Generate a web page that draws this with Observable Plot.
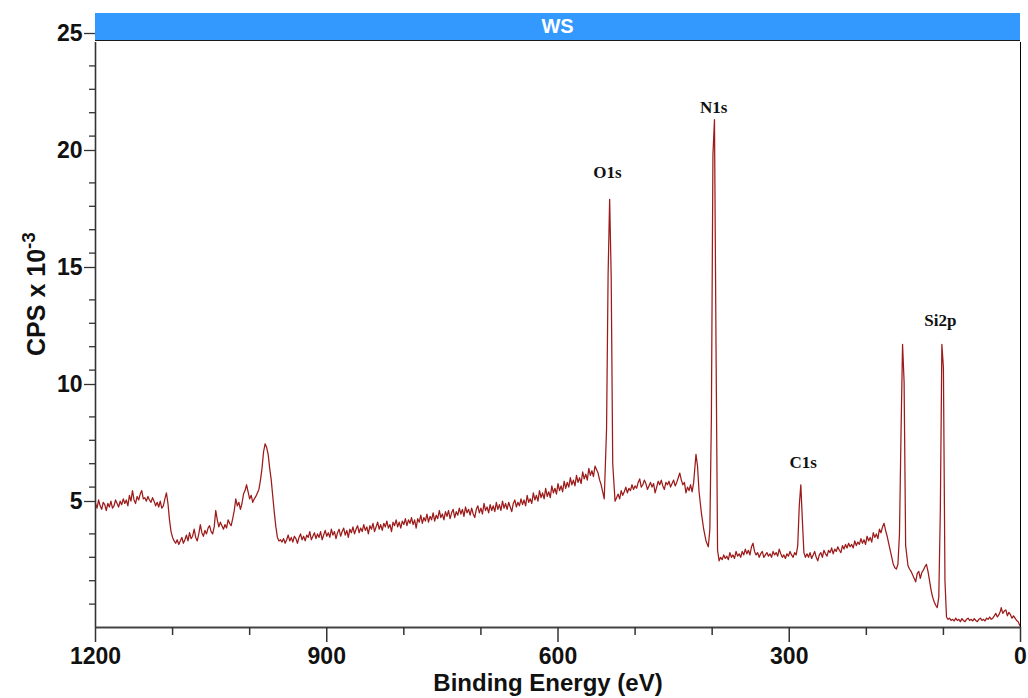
<!DOCTYPE html>
<html>
<head>
<meta charset="utf-8">
<script src="https://cdn.jsdelivr.net/npm/d3@7"></script>
<script src="https://cdn.jsdelivr.net/npm/@observablehq/plot@0.6"></script>
<style>
  html, body { margin: 0; padding: 0; background: #fff; }
  #wrap { position: relative; width: 1028px; height: 698px; font-family: "Liberation Sans", Arial, sans-serif; }
  #bar { position: absolute; left: 95px; top: 13px; width: 925px; height: 28px; background: #3399ff;
         border-bottom: 1px solid #1a1a1a; box-sizing: border-box; color: #fff; font-weight: bold;
         font-size: 20px; line-height: 27px; text-align: center; font-family: "Liberation Sans", Arial, sans-serif; }
  #chart { position: absolute; left: 0; top: 0; }
</style>
</head>
<body>
<div id="wrap">
  <div id="chart"></div>
  <div id="bar">WS</div>
</div>
<script>
// Binding energy (eV), counts per second x 10^-3
const segHighBE = [
  [1200,5.3],[1198,5.1],[1196,5.45],[1194,5.2],[1192,5.05],[1190,5.35],[1188,5.25],[1186,5.0],
  [1184,5.3],[1182,5.15],[1180,5.4],[1178,5.1],[1176,5.2],[1174,5.45],[1172,5.3],[1170,5.15],
  [1168,5.4],[1166,5.25],[1164,5.5],[1162,5.3],[1160,5.45],[1158,5.2],[1156,5.65],[1154,5.4],
  [1152,5.85],[1150,5.45],[1148,5.3],[1146,5.6],[1144,5.45],[1142,5.7],[1140,5.85],[1138,5.5],
  [1136,5.55],[1134,5.4],[1132,5.6],[1130,5.45],[1128,5.35],[1126,5.55],[1124,5.4],[1122,5.2],
  [1120,5.35],[1118,5.15],[1116,5.4],[1114,5.1],[1112,5.2],[1110,5.5],[1108,5.75],[1106,5.3],
  [1104,4.6],[1102,4.1],[1100,3.85],[1098,3.7],[1096,3.6],[1094,3.75],[1092,3.55],[1090,3.7],
  [1088,3.85],[1086,3.6],[1084,3.75],[1082,3.95],[1080,3.7],[1078,4.05],[1076,3.8],[1074,3.9],
  [1072,4.2],[1070,3.85],[1068,3.7],[1066,4.0],[1064,4.4],[1062,4.05],[1060,3.9],[1058,4.15],
  [1056,4.0],[1054,4.25],[1052,4.35],[1050,4.1],[1048,4.0],[1046,4.3],[1044,5.0],[1042,4.6],
  [1040,4.3],[1038,4.5],[1036,4.35],[1034,4.2],[1032,4.4],[1030,4.25],[1028,4.6],[1026,4.45],
  [1024,4.35],[1022,4.65],[1020,5.0],[1018,5.5],[1016,5.2],[1014,5.35],[1012,5.05],[1010,5.3],
  [1008,5.7],[1006,5.85],[1004,6.1],[1002,5.8],[1000,5.5],[998,5.65],[996,5.35],[994,5.5],
  [992,5.6],[990,5.75],[988,5.9],[986,6.3],[984,6.8],[982,7.5],[980,7.85],[978,7.7],[976,7.4],
  [974,6.8],[972,6.3],[970,5.6],[968,4.9],[966,4.3],[964,3.85],[962,3.7],[960,3.75],[958,3.65]
];
const segMidBE = [
  [956,3.8],[954,3.6],[952,3.75],[950,3.95],[948,3.7],[946,3.85],[944,3.65],[942,3.9],[940,3.8],
  [938,3.6],[936,3.85],[934,4.0],[932,3.75],[930,3.9],[928,3.7],[926,3.95],[924,3.85],[922,4.1],
  [920,3.75],[918,3.9],[916,4.05],[914,3.8],[912,4.0],[910,3.85],[908,4.1],[906,3.75],[904,3.95],
  [902,4.15],[900,3.9],[898,4.05],[896,3.85],[894,4.2],[892,3.95],[890,4.1],[888,3.8],[886,4.05],
  [884,4.2],[882,3.9],[880,4.1],[878,4.25],[876,3.95],[874,4.15],[872,3.85],[870,4.2],[868,4.05],
  [866,4.3],[864,4.0],[862,4.2],[860,4.35],[858,4.05],[856,4.25],[854,4.1],[852,4.4],[850,4.15],
  [848,4.3],[846,4.0],[844,4.35],[842,4.2],[840,4.45],[838,4.1],[836,4.3],[834,4.5],[832,4.2],
  [830,4.4],[828,4.15],[826,4.45],[824,4.3],[822,4.55],[820,4.25],[818,4.4],[816,4.1],[814,4.5],
  [812,4.35],[810,4.6],[808,4.3],[806,4.5],[804,4.25],[802,4.55],[800,4.4],[798,4.65],[796,4.35],
  [794,4.6],[792,4.45],[790,4.7],[788,4.4],[786,4.6],[784,4.25],[782,4.65],[780,4.5],[778,4.8],
  [776,4.45],[774,4.7],[772,4.55],[770,4.85],[768,4.5],[766,4.75],[764,4.6],[762,4.9],[760,4.55],
  [758,4.8],[756,4.65],[754,5.0],[752,4.7],[750,4.85],[748,4.6],[746,4.95],[744,4.75],[742,5.0],
  [740,4.65],[738,4.9],[736,5.05],[734,4.7],[732,4.95],[730,4.8],[728,5.1],[726,4.85],[724,5.05],
  [722,4.75],[720,5.15],[718,4.9],[716,5.05],[714,4.8],[712,5.1],[710,4.85],[708,4.7],[706,5.05],
  [704,5.2],[702,4.9],[700,5.1],[698,4.85],[696,5.3],[694,5.0],[692,5.15],[690,4.9],[688,5.25],
  [686,5.0],[684,5.2],[682,4.95],[680,5.35],[678,5.05],[676,5.25],[674,5.0],[672,5.4],[670,5.1],
  [668,5.3],[666,5.05],[664,5.35],[662,5.15],[660,4.95],[658,5.3],[656,5.45],[654,5.15],[652,5.35],
  [650,5.2],[648,5.5],[646,5.25],[644,5.45],[642,5.2],[640,5.65],[638,5.35],[636,5.5],[634,5.3],
  [632,5.75],[630,5.45],[628,5.65],[626,5.4],[624,5.85],[622,5.55],[620,5.75],[618,5.5],[616,5.95],
  [614,5.6],[612,5.8],[610,5.55],[608,6.05],[606,5.75],[604,5.95],[602,5.7],[600,6.15],[598,5.85],
  [596,6.05],[594,5.8],[592,6.25],[590,5.95],[588,6.2],[586,6.0],[584,6.4],[582,6.1],[580,6.3],
  [578,6.05],[576,6.5],[574,6.2],[572,6.4],[570,6.15],[568,6.65],[566,6.35],[564,6.55],[562,6.3],
  [560,6.8],[558,6.5],[556,6.7],[554,6.45],[552,6.9],[550,6.75],[548,6.6],[546,6.3],[544,6.1],
  [542,5.8],[540,5.5],[537,8.5],[535,15.1],[533,18.3],[531,15.0],[529,7.0],[526,5.4]
];
const segNitrogen = [
  [524,5.55],[522,5.7],[520,5.5],[518,5.85],[516,5.65],[514,5.8],[512,6.0],[510,5.75],[508,5.95],
  [506,5.85],[504,6.1],[502,5.9],[500,6.05],[498,5.95],[496,6.2],[494,6.35],[492,6.0],[490,6.1],
  [488,6.3],[486,6.15],[484,5.9],[482,6.05],[480,6.2],[478,6.0],[476,6.15],[474,5.75],[472,6.0],
  [470,6.25],[468,6.1],[466,6.3],[464,6.05],[462,5.9],[460,6.2],[458,6.1],[456,6.25],[454,6.0],
  [452,6.15],[450,6.3],[448,6.05],[446,6.2],[444,6.4],[442,6.6],[440,6.3],[438,6.1],[436,6.2],
  [434,5.75],[432,6.0],[430,5.85],[428,6.1],[426,5.8],[424,6.2],[423,6.6],[421,7.4],[419,6.9],
  [417,5.8],[414,4.9],[411,4.2],[408,3.7],[405,3.45],[403,4.2],[401,9.0],[399,20.2],[397,21.7],
  [395,12.0],[393,3.3],[391,2.85]
];
const segCarbon = [
  [389,3.0],[387,2.9],[385,3.1],[383,2.95],[381,3.05],[379,2.9],[377,3.2],[375,3.0],[373,3.1],
  [371,2.95],[369,3.25],[367,3.05],[365,3.15],[363,3.0],[361,3.25],[359,3.1],[357,3.35],[355,3.15],
  [353,3.3],[351,3.1],[349,3.45],[347,3.6],[345,3.25],[343,3.1],[341,3.2],[339,3.0],[337,3.15],
  [335,3.25],[333,3.0],[331,3.1],[329,3.2],[327,3.05],[325,3.15],[323,3.0],[321,3.25],[319,3.1],
  [317,3.2],[315,3.05],[313,3.35],[311,3.15],[309,3.0],[307,3.1],[305,2.95],[303,3.15],[301,3.05],
  [299,3.25],[297,3.1],[295,3.0],[293,3.2],[291,3.1],[289,3.5],[287,5.2],[285,6.1],[283,4.6],
  [281,3.2],[279,3.0]
];
const segSilicon = [
  [277,3.15],[275,3.0],[273,3.2],[271,2.95],[269,3.1],[267,3.25],[265,3.0],[263,2.85],[261,3.1],
  [259,3.2],[257,3.0],[255,3.3],[253,3.15],[251,3.05],[249,3.3],[247,3.2],[245,3.4],[243,3.15],
  [241,3.35],[239,3.25],[237,3.45],[235,3.3],[233,3.2],[231,3.5],[229,3.35],[227,3.55],[225,3.4],
  [223,3.6],[221,3.45],[219,3.55],[217,3.4],[215,3.7],[213,3.5],[211,3.65],[209,3.55],[207,3.8],
  [205,3.6],[203,3.75],[201,3.55],[199,3.9],[197,3.7],[195,3.85],[193,3.65],[191,4.05],[189,3.85],
  [187,4.0],[185,3.8],[183,4.2],[181,4.05],[179,4.3],[177,4.45],[175,4.15],[173,3.9],[171,3.6],
  [169,3.3],[167,3.0],[165,2.7],[163,2.55],[161,2.5],[159,2.7],[157,4.0],[155,8.3],[153,12.1],
  [151,10.5],[149,3.5],[146,2.65],[144,2.5],[142,2.4],[140,2.25],[138,2.1],[136,1.95],[134,2.3],
  [132,2.4],[130,2.1],[128,2.35],[126,2.45],[124,2.6],[122,2.7],[120,2.4],[118,2.0],[116,1.6],
  [114,1.3],[112,1.1],[110,0.95],[108,0.85],[106,1.3],[104,5.0],[102,12.1],[100,11.1],[98,2.0]
];
const segLowBE = [
  [96,0.45],[94,0.35],[92,0.4],[90,0.3],[88,0.35],[86,0.28],[84,0.4],[82,0.3],[80,0.35],[78,0.25],
  [76,0.38],[74,0.3],[72,0.25],[70,0.35],[68,0.4],[66,0.3],[64,0.35],[62,0.28],[60,0.38],[58,0.3],
  [56,0.25],[54,0.35],[52,0.4],[50,0.3],[48,0.35],[46,0.28],[44,0.4],[42,0.35],[40,0.45],[38,0.35],
  [36,0.4],[34,0.5],[32,0.6],[30,0.45],[28,0.55],[26,0.7],[25,0.85],[23,0.6],[21,0.7],[19,0.75],
  [17,0.5],[15,0.65],[13,0.55],[11,0.4],[9,0.5],[7,0.4],[5,0.3],[3,0.25],[1,0.1],[0,0.05]
];

const peakNames = ["O1s", "N1s", "C1s", "Si2p"];
const peakBE    = [536, 398, 282, 104];
const peakLabelY = [19.45, 22.2, 7.05, 13.1];

const xMajorTicks = [1200, 900, 600, 300, 0];
const xMinorTicks = [1100, 1000, 800, 700, 500, 400, 200, 100];
const yMajorTicks = [5, 10, 15, 20, 25];
const yMinorTicks = [1, 2, 3, 4, 6, 7, 8, 9, 11, 12, 13, 14, 16, 17, 18, 19, 21, 22, 23, 24];

const spectrum = [...segHighBE, ...segMidBE, ...segNitrogen, ...segCarbon, ...segSilicon, ...segLowBE]
  .map(([be, cps]) => ({be, cps}));
const peaks = peakNames.map((name, i) => ({name, be: peakBE[i], y: peakLabelY[i]}));

const axisColor = "#333";
const svg = Plot.plot({
  width: 1028,
  height: 698,
  marginLeft: 95,
  marginRight: 8,
  marginTop: 42,
  marginBottom: 71,
  style: {fontFamily: "Liberation Sans, Arial, sans-serif", color: "#111", background: "transparent"},
  x: {domain: [1200, 0], label: null},
  y: {domain: [0, 25], label: null},
  marks: [
    Plot.line(spectrum, {x: "be", y: "cps", stroke: "#9c1a1a", strokeWidth: 1.25}),
    Plot.ruleX([1200], {stroke: axisColor, strokeWidth: 1.6}),
    Plot.ruleX([0], {stroke: "#000", strokeWidth: 1}),
    Plot.ruleY([0], {stroke: "#444", strokeWidth: 2}),
    Plot.axisY(yMinorTicks, {tickSize: 6, tickFormat: () => "", label: null, stroke: axisColor, strokeWidth: 1.3}),
    Plot.axisY(yMajorTicks, {tickSize: 11, tickPadding: 2, dy: -9, fontSize: 23, fontWeight: "bold",
      tickFormat: d => String(d), label: null, stroke: axisColor, strokeWidth: 1.3}),
    Plot.axisX(xMinorTicks, {tickSize: 8, tickFormat: () => "", label: null, stroke: axisColor, strokeWidth: 1.5}),
    Plot.axisX(xMajorTicks, {tickSize: 15, tickPadding: 5, fontSize: 23, fontWeight: "bold",
      tickFormat: d => String(d), label: null, stroke: axisColor, strokeWidth: 1.5}),
    Plot.text(peaks, {x: "be", y: "y", text: "name", fontFamily: "Liberation Serif, Times New Roman, serif",
      fontWeight: "bold", fontSize: 17, fill: "#111"})
  ]
});

const s = d3.select(svg);
const yl = s.append("text")
  .attr("transform", "translate(45,294) rotate(-90)")
  .attr("text-anchor", "middle")
  .attr("font-size", 25).attr("font-weight", "bold").attr("fill", "#111")
  .attr("font-family", "Liberation Sans, Arial, sans-serif");
yl.append("tspan").text("CPS x 10");
yl.append("tspan").attr("dy", -10).attr("font-size", 19).text("-3");
s.append("text")
  .attr("x", 548).attr("y", 691)
  .attr("text-anchor", "middle")
  .attr("font-size", 24).attr("font-weight", "bold").attr("fill", "#111")
  .attr("font-family", "Liberation Sans, Arial, sans-serif")
  .text("Binding Energy (eV)");

document.getElementById("chart").appendChild(svg);
</script>
</body>
</html>
